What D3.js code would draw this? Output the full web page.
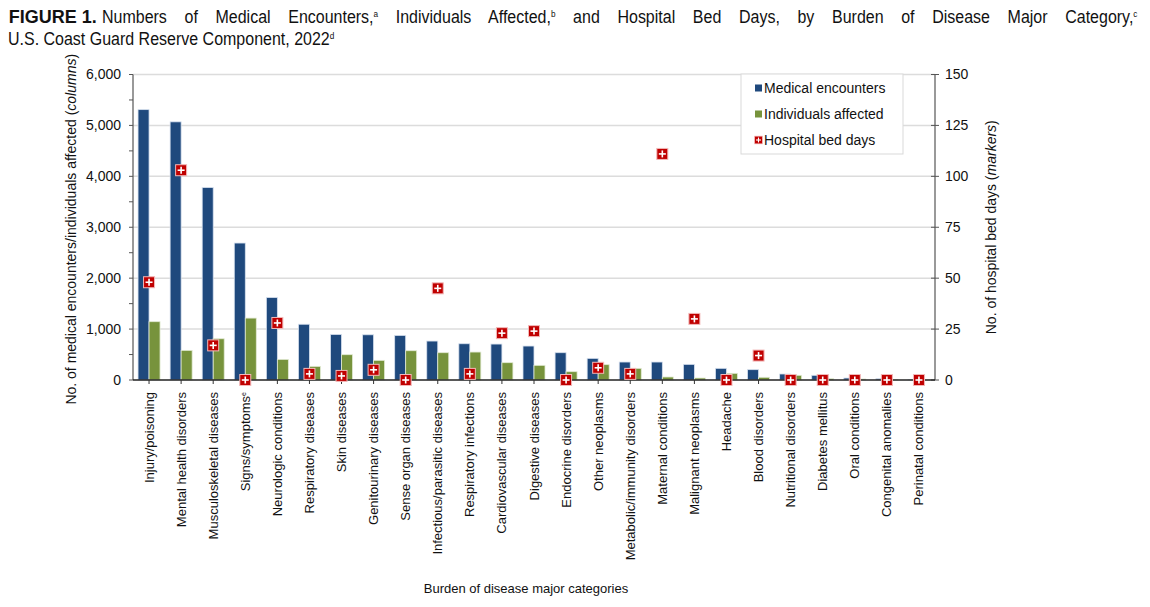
<!DOCTYPE html>
<html><head><meta charset="utf-8">
<script src="https://cdn.jsdelivr.net/npm/d3@7"></script>
<style>
body{margin:0;background:#fff;}
svg{font-family:"Liberation Sans",Arial,sans-serif;}
</style></head>
<body><svg id="c" width="1150" height="607"></svg>
<script>
const categories = ["Injury/poisoning","Mental health disorders","Musculoskeletal diseases","Signs/symptoms","Neurologic conditions","Respiratory diseases","Skin diseases","Genitourinary diseases","Sense organ diseases","Infectious/parasitic diseases","Respiratory infections","Cardiovascular diseases","Digestive diseases","Endocrine disorders","Other neoplasms","Metabolic/immunity disorders","Maternal conditions","Malignant neoplasms","Headache","Blood disorders","Nutritional disorders","Diabetes mellitus","Oral conditions","Congenital anomalies","Perinatal conditions"];
const medicalEncounters = [5310,5070,3780,2690,1620,1095,895,888,876,765,712,706,667,536,425,353,353,307,229,203,118,92,39,25,3];
const individualsAffected = [1145,582,810,1216,405,268,497,386,575,536,549,340,288,163,301,229,59,39,131,53,92,25,20,8,2];
const hospitalBedDays = [48,103,17,0,28,3,2,5,0,45,3,23,24,0,6,3,111,30,0,12,0,0,0,0,0];
const leftTicks = [0,1000,2000,3000,4000,5000,6000];
const rightTicks = [0,25,50,75,100,125,150];
const legendLabels = ["Medical encounters","Individuals affected","Hospital bed days"];

const svg = d3.select("#c");
const L=133, R=935, T=74.5, B=380;
const x = d3.scaleBand().domain(categories).range([L,R]).paddingInner(0).paddingOuter(0);
const yL = d3.scaleLinear().domain([0,6000]).range([B,T]);
const yR = d3.scaleLinear().domain([0,150]).range([B,T]);
const blue="#1f497d", green="#77933c", red="#c00000";

// title (condensed via horizontal scale, first line justified)
const sx = 0.865;
const tg = svg.append("g").attr("transform",`translate(8,0) scale(${sx},1)`);
tg.append("text").attr("x",1).attr("y",23).attr("font-size",18.5).attr("font-weight","bold")
  .attr("fill","#111").attr("textLength",(97-9)/sx).attr("lengthAdjust","spacingAndGlyphs").text("FIGURE 1.");
const startX = (102-8)/sx;
const title = tg.append("text").attr("x",startX).attr("y",23).attr("font-size",18.5).attr("fill","#111");
title.append("tspan").text("Numbers of Medical Encounters,");
title.append("tspan").attr("font-size",9.5).attr("dy",-6).text("a");
title.append("tspan").attr("dy",6).text(" Individuals Affected,");
title.append("tspan").attr("font-size",9.5).attr("dy",-6).text("b");
title.append("tspan").attr("dy",6).text(" and Hospital Bed Days, by Burden of Disease Major Category,");
title.append("tspan").attr("font-size",9.5).attr("dy",-6).text("c");
{
  const target = (1138-8)/sx - startX;
  const nSpaces = (title.text().match(/ /g)||[]).length;
  let ws = 0;
  for (let k=0;k<4;k++){
    title.attr("word-spacing", ws);
    const w = title.node().getBBox().width;
    ws += (target - w)/nSpaces;
    if (ws<0) ws=0;
  }
  title.attr("word-spacing", ws);
}
const t2 = tg.append("text").attr("x",0).attr("y",45).attr("font-size",18.5).attr("fill","#111");
t2.append("tspan").text("U.S. Coast Guard Reserve Component, 2022");
t2.append("tspan").attr("font-size",9.5).attr("dy",-6).text("d");

// gridlines
svg.append("g").selectAll("line").data(leftTicks.slice(1)).join("line")
  .attr("x1",L).attr("x2",R).attr("y1",d=>yL(d)).attr("y2",d=>yL(d))
  .attr("stroke","#dcdcdc").attr("stroke-width",1.5);

// bars
const bw = 11;
const g = svg.append("g");
g.selectAll("rect.me").data(medicalEncounters).join("rect").attr("class","me")
  .attr("x",(d,i)=>x(categories[i])+x.bandwidth()/2-bw).attr("width",bw)
  .attr("y",d=>yL(d)).attr("height",d=>B-yL(d))
  .attr("fill",blue).attr("stroke","#d6e0ee").attr("stroke-width",0.8);
g.selectAll("rect.ia").data(individualsAffected).join("rect").attr("class","ia")
  .attr("x",(d,i)=>x(categories[i])+x.bandwidth()/2).attr("width",bw)
  .attr("y",d=>yL(d)).attr("height",d=>B-yL(d))
  .attr("fill",green).attr("stroke","#e2ead4").attr("stroke-width",0.8);

// left axis
const gl = svg.append("g").attr("transform",`translate(${L},0)`);
gl.append("line").attr("x1",0).attr("x2",0).attr("y1",T).attr("y2",B).attr("stroke","#555").attr("stroke-width",1.2);
gl.selectAll("line.tk").data(d3.range(0,6001,500)).join("line").attr("class","tk")
  .attr("x1",-4).attr("x2",0).attr("y1",d=>yL(d)).attr("y2",d=>yL(d)).attr("stroke","#555");
gl.selectAll("text").data(leftTicks).join("text")
  .attr("x",-12).attr("y",d=>yL(d)).attr("dy","0.35em").attr("text-anchor","end")
  .attr("font-size",14).attr("fill","#111").text(d=>d3.format(",")(d));

// right axis
const gr = svg.append("g").attr("transform",`translate(${R},0)`);
gr.append("line").attr("y1",T).attr("y2",B).attr("stroke","#555").attr("stroke-width",1.2);
gr.selectAll("line.tk").data(rightTicks).join("line").attr("class","tk")
  .attr("x1",-4).attr("x2",4).attr("y1",d=>yR(d)).attr("y2",d=>yR(d)).attr("stroke","#555");
gr.selectAll("text").data(rightTicks).join("text")
  .attr("x",10).attr("y",d=>yR(d)).attr("dy","0.35em").attr("text-anchor","start")
  .attr("font-size",14).attr("fill","#111").text(d=>d);

// x axis
svg.append("line").attr("x1",L).attr("x2",R).attr("y1",B).attr("y2",B).attr("stroke","#222").attr("stroke-width",1.5);
const gx = svg.append("g");
gx.selectAll("line").data(categories).join("line")
  .attr("x1",d=>x(d)+x.bandwidth()/2).attr("x2",d=>x(d)+x.bandwidth()/2)
  .attr("y1",B).attr("y2",B+4).attr("stroke","#333");
const xl = gx.selectAll("text").data(categories).join("text")
  .attr("transform",d=>`translate(${x(d)+x.bandwidth()/2+4.5},${B+12}) rotate(-90)`)
  .attr("text-anchor","end").attr("font-size",13).attr("fill","#111");
xl.append("tspan").text(d=>d);
xl.filter(d=>d==="Signs/symptoms").append("tspan").attr("font-size",7).attr("dy",-4).text("e");

// markers
function marker(sel){
  sel.append("rect").attr("x",-5.5).attr("y",-5.5).attr("width",11).attr("height",11)
    .attr("fill",red).attr("stroke","#f2b8b8").attr("stroke-width",1);
  sel.append("line").attr("x1",-3.5).attr("x2",3.5).attr("y1",0).attr("y2",0).attr("stroke","#fff").attr("stroke-width",1.6);
  sel.append("line").attr("y1",-3.5).attr("y2",3.5).attr("x1",0).attr("x2",0).attr("stroke","#fff").attr("stroke-width",1.6);
}
svg.append("g").selectAll("g").data(hospitalBedDays).join("g")
  .attr("transform",(d,i)=>`translate(${x(categories[i])+x.bandwidth()/2},${yR(d)})`)
  .call(marker);

// axis titles
const lt = svg.append("text").attr("transform",`translate(76,${(T+B)/2+2}) rotate(-90)`)
  .attr("text-anchor","middle").attr("font-size",14).attr("fill","#111");
lt.append("tspan").text("No. of medical encounters/individuals affected (");
lt.append("tspan").attr("font-style","italic").text("columns");
lt.append("tspan").text(")");
const rt = svg.append("text").attr("transform",`translate(996,${(T+B)/2}) rotate(-90)`)
  .attr("text-anchor","middle").attr("font-size",14).attr("fill","#111");
rt.append("tspan").text("No. of hospital bed days (");
rt.append("tspan").attr("font-style","italic").text("markers");
rt.append("tspan").text(")");
svg.append("text").attr("x",526).attr("y",593).attr("text-anchor","middle")
  .attr("font-size",13).attr("fill","#111").text("Burden of disease major categories");

// legend
const lg = svg.append("g").attr("transform","translate(741,74)");
lg.append("rect").attr("width",162).attr("height",80).attr("fill","#fff").attr("stroke","#d9d9d9");
const items = lg.selectAll("g").data(legendLabels).join("g").attr("transform",(d,i)=>`translate(0,${14+i*26})`);
items.each(function(d,i){
  const s=d3.select(this);
  if(i<2){ s.append("rect").attr("x",14).attr("y",-3.5).attr("width",7).attr("height",7).attr("fill",i===0?blue:green); }
  else { const m=s.append("g").attr("transform","translate(17.5,0) scale(0.7)"); marker(m); }
  s.append("text").attr("x",23).attr("y",0).attr("dy","0.35em").attr("font-size",14).attr("fill","#111").text(d);
});
</script></body></html>
